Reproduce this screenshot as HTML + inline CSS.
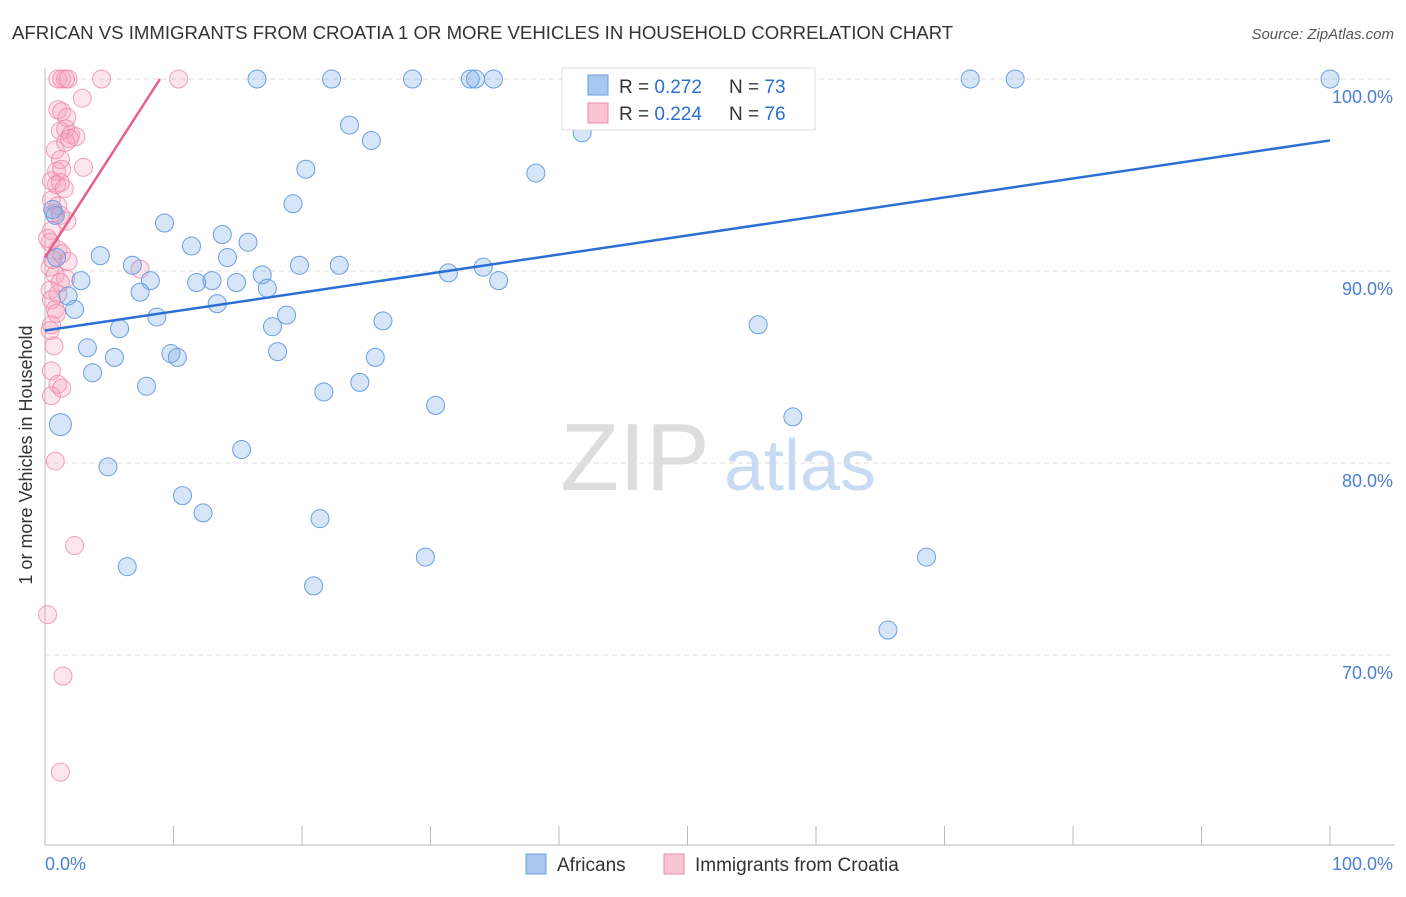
<!DOCTYPE html>
<html><head><meta charset="utf-8"><style>
body{margin:0;background:#fff;font-family:"Liberation Sans",sans-serif;}
svg text{font-family:"Liberation Sans",sans-serif;}
</style></head><body>
<svg id="c" width="1406" height="892">
<text x="12" y="39" font-size="18.6" fill="#333">AFRICAN VS IMMIGRANTS FROM CROATIA 1 OR MORE VEHICLES IN HOUSEHOLD CORRELATION CHART</text>
<text x="1394" y="39" font-size="15" fill="#555" text-anchor="end" font-style="italic">Source: ZipAtlas.com</text>
<text x="32" y="455" font-size="18" fill="#333" text-anchor="middle" transform="rotate(-90 32 455)">1 or more Vehicles in Household</text>
<g><text x="635" y="490" font-size="96" fill="#ddd" text-anchor="middle" font-family="Liberation Serif">ZIP</text><text x="800" y="490" font-size="72" fill="#c9daf3" text-anchor="middle">atlas</text></g>
<g id="grid"></g><g id="marks"></g><g id="trend"></g>
<g>
<rect x="562" y="68" width="253" height="62" fill="#fff" stroke="#ddd"/>
<rect x="588" y="75" width="20" height="20" fill="#a9c8f0" stroke="#6a9fe0"/>
<text x="619" y="93" font-size="19" fill="#333">R = <tspan fill="#2a6fd6">0.272</tspan></text>
<text x="729" y="93" font-size="19" fill="#333">N = <tspan fill="#2a6fd6">73</tspan></text>
<rect x="588" y="103" width="20" height="20" fill="#f9c5d4" stroke="#f08aa8"/>
<text x="619" y="120" font-size="19" fill="#333">R = <tspan fill="#2a6fd6">0.224</tspan></text>
<text x="729" y="120" font-size="19" fill="#333">N = <tspan fill="#2a6fd6">76</tspan></text>
</g>
<g>
<rect x="526" y="854" width="20" height="20" fill="#a9c8f0" stroke="#6a9fe0"/>
<text x="557" y="871" font-size="19" fill="#333">Africans</text>
<rect x="664" y="854" width="20" height="20" fill="#f9c5d4" stroke="#f08aa8"/>
<text x="695" y="871" font-size="19" fill="#333">Immigrants from Croatia</text>
</g>
<text x="45" y="870" font-size="18" fill="#4a7fd4">0.0%</text>
<text x="1393" y="870" font-size="18" fill="#4a7fd4" text-anchor="end">100.0%</text>
</svg>
<script>
const yTicks=[100,90,80,70];
const blueX=[16.5,22.3,28.6,33.1,33.5,34.9,43.0,52.4,59.1,72.0,75.5,100,23.7,25.4,41.8,20.3,38.2,19.3,9.3,13.8,11.4,15.8,4.3,14.2,6.8,19.8,22.9,16.9,31.4,34.1,2.8,8.2,11.8,13.0,14.9,17.3,7.4,35.3,1.8,2.3,13.4,18.8,8.7,17.7,26.3,5.8,55.5,3.3,9.8,18.1,5.4,10.3,25.7,3.7,7.9,24.5,21.7,30.4,58.2,1.2,15.3,4.9,10.7,12.3,21.4,29.6,68.6,6.4,20.9,65.6,0.8,0.9,0.6];
const blueY=[100,100,100,100,100,100,99.7,100,100,100,100,100,97.6,96.8,97.2,95.3,95.1,93.5,92.5,91.9,91.3,91.5,90.8,90.7,90.3,90.3,90.3,89.8,89.9,90.2,89.5,89.5,89.4,89.5,89.4,89.1,88.9,89.5,88.7,88.0,88.3,87.7,87.6,87.1,87.4,87.0,87.2,86.0,85.7,85.8,85.5,85.5,85.5,84.7,84.0,84.2,83.7,83.0,82.4,82.0,80.7,79.8,78.3,77.4,77.1,75.1,75.1,74.6,73.6,71.3,92.9,90.7,93.2];
const pinkX=[1.0,1.3,1.6,1.8,4.4,10.4,2.9,1.0,1.3,1.7,1.2,1.6,2.0,2.4,1.6,1.9,0.8,1.2,0.9,1.3,0.5,0.9,1.2,1.5,0.5,1.0,0.7,1.2,1.7,0.5,0.4,1.0,1.3,1.8,0.4,0.8,1.6,0.4,1.0,0.5,0.8,0.4,0.7,0.5,1.0,0.5,1.3,2.3,0.8,0.2,1.4,1.2,3.0,7.4,1.2,0.6,0.2,0.5,0.9];
const pinkY=[100,100,100,100,100,100,99.0,98.4,98.3,98.0,97.3,97.4,97.1,97.0,96.7,96.9,96.3,95.8,95.2,95.3,94.7,94.5,94.6,94.3,93.7,93.4,93.0,92.9,92.6,92.1,91.5,91.1,90.9,90.5,90.2,89.8,89.6,89.0,88.8,88.5,88.0,86.9,86.1,84.8,84.1,83.5,83.9,75.7,80.1,72.1,68.9,63.9,95.4,90.1,89.4,90.6,91.7,87.2,87.8];
const blueTrend=[86.9,96.8];
const pinkTrend=[90.7,100];const pinkTrendEnd=8.95;
const NS='http://www.w3.org/2000/svg';
const X=v=>45+v*12.85, Y=v=>79+(100-v)*19.2;
function mk(tag,attrs,parent){const e=document.createElementNS(NS,tag);for(const k in attrs)e.setAttribute(k,attrs[k]);document.getElementById(parent).appendChild(e);return e;}
yTicks.forEach(t=>{
 const l=mk('line',{x1:45,x2:1395,y1:Y(t),y2:Y(t),stroke:'#ddd','stroke-dasharray':'5,4'},'grid');
 
 
 const tx=mk('text',{x:1393,y:Y(t)+24,'font-size':18,fill:'#4a7fd4','text-anchor':'end'},'grid');
 tx.textContent=t.toFixed(1)+'%';
 
 
});
const ax=mk('line',{x1:45,x2:45,y1:68,y2:845,stroke:'#bbb'},'grid');


const bx=mk('line',{x1:45,x2:1395,y1:845,y2:845,stroke:'#bbb'},'grid');


for(let i=0;i<=10;i++){const tk=mk('line',{x1:X(i*10),x2:X(i*10),y1:826,y2:845,stroke:'#bbb'},'grid');
 
 }
pinkX.forEach((x,i)=>{const c=mk('circle',{cx:X(x),cy:Y(pinkY[i]),r:9,fill:'rgba(245,160,185,0.28)',stroke:'rgba(236,130,165,0.75)','stroke-width':1},'marks');
 
 });
blueX.forEach((x,i)=>{const c=mk('circle',{cx:X(x),cy:Y(blueY[i]),r:(blueY[i]==82.0?11:9),fill:'rgba(120,170,230,0.3)',stroke:'#6a9fe0','stroke-width':1},'marks');
 
 });
const bt=mk('line',{x1:X(0),y1:Y(blueTrend[0]),x2:X(100),y2:Y(blueTrend[1]),stroke:'#2a6fd6','stroke-width':2.5},'trend');


const pt=mk('line',{x1:X(0),y1:Y(pinkTrend[0]),x2:X(pinkTrendEnd),y2:Y(pinkTrend[1]),stroke:'#e8608a','stroke-width':2.5},'trend');


</script>
</body></html>
